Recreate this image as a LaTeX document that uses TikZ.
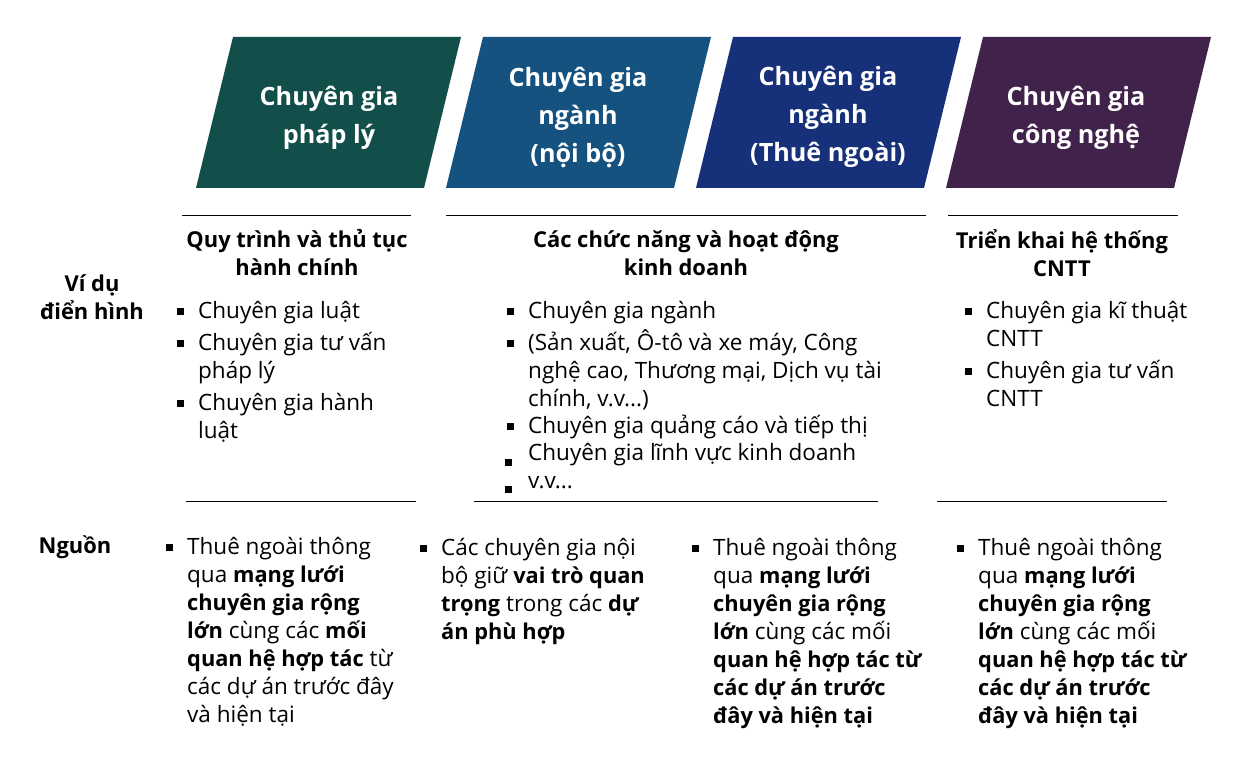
\documentclass[tikz,border=0pt]{standalone}
\usepackage{fontspec}
\setmainfont{Open Sans}
\usepackage{xcolor}
\definecolor{mauA}{RGB}{18,79,74}
\definecolor{mauB}{RGB}{21,82,128}
\definecolor{mauC}{RGB}{23,48,122}
\definecolor{mauD}{RGB}{65,34,75}
\newcommand{\dam}[1]{{\fontsize{21.8}{28}\selectfont\bfseries #1}}
\newcommand{\dong}{\rule{0pt}{24pt}}

\begin{document}
\begin{tikzpicture}[x=1pt,y=-1pt,auto,
    tieude/.style={text=white,font=\fontsize{25.2}{38}\selectfont\bfseries,align=center,inner sep=0pt},
    nhom/.style={font=\fontsize{21.9}{28}\selectfont\bfseries,align=center,inner sep=0pt},
    muc/.style={font=\fontsize{22.5}{28}\selectfont,align=left,anchor=north west,inner sep=0pt},
    dau/.style={fill=black,inner sep=0pt,minimum size=7pt}]
    \useasboundingbox (0,0) rectangle (1241,759);

    \fill[mauA] (196,188)--(233,37)--(461,37)--(424,188)--cycle;
    \fill[mauB] (446,188)--(483,37)--(711,37)--(674,188)--cycle;
    \fill[mauC] (696,188)--(733,37)--(961,37)--(924,188)--cycle;
    \fill[mauD] (946,188)--(983,37)--(1211,37)--(1174,188)--cycle;
    \node[tieude] (ta) at (329,118) {Chuyên gia\\pháp lý};
    \node[tieude] (tb) at (578,117) {Chuyên gia\\ngành\\(nội bộ)};
    \node[tieude] (tc) at (828,117) {Chuyên gia\\ngành\\(Thuê ngoài)};
    \node[tieude] (td) at (1076,118) {Chuyên gia\\công nghệ};

    \draw[line width=0.6pt] (182,215)--(411,215);
    \draw[line width=0.6pt] (446,215)--(926,215);
    \draw[line width=0.6pt] (948,215)--(1178,215);
    \draw[line width=0.6pt] (186,501)--(416,501);
    \draw[line width=0.6pt] (474,501)--(878,501);
    \draw[line width=0.6pt] (937,501)--(1167,501);

    \node[nhom] (na) at (92,297) {Ví dụ\\điển hình};
    \node[nhom] (nb) at (75,547) {Nguồn};
    \node[nhom] (ha) at (297,253) {Quy trình và thủ tục\\hành chính};
    \node[nhom] (hb) at (686,253) {Các chức năng và hoạt động\\kinh doanh};
    \node[nhom] (hc) at (1062,253) {Triển khai hệ thống\\CNTT};

    \node[muc] (aaa) at (198,294) {\dong Chuyên gia luật};
    \node[muc] (aab) at (198,326) {\dong Chuyên gia tư vấn\\pháp lý};
    \node[muc] (aac) at (198,386) {\dong Chuyên gia hành\\luật};
    \node[dau] (baa) at (180,311) {};
    \node[dau] (bab) at (180,343) {};
    \node[dau] (bac) at (180,403) {};

    \node[muc] (aba) at (528,294) {\dong Chuyên gia ngành};
    \node[muc] (abb) at (528,326) {\dong (Sản xuất, Ô-tô và xe máy, Công\\nghệ cao, Thương mại, Dịch vụ tài\\chính, v.v...)};
    \node[muc] (abc) at (528,409) {\dong Chuyên gia quảng cáo và tiếp thị};
    \node[muc] (abd) at (528,436) {\dong Chuyên gia lĩnh vực kinh doanh};
    \node[muc] (abe) at (528,464) {\dong v.v...};
    \node[dau] (bba) at (510,311) {};
    \node[dau] (bbb) at (510,343) {};
    \node[dau] (bbc) at (510,426) {};
    \node[dau] (bbd) at (508,462) {};
    \node[dau] (bbe) at (508,489) {};

    \node[muc] (aca) at (986,294) {\dong Chuyên gia kĩ thuật\\CNTT};
    \node[muc] (acb) at (986,354) {\dong Chuyên gia tư vấn\\CNTT};
    \node[dau] (bca) at (968,311) {};
    \node[dau] (bcb) at (968,371) {};

    \node[muc] (ada) at (187,530) {\dong Thuê ngoài thông\\qua \dam{mạng lưới}\\\dam{chuyên gia rộng}\\\dam{lớn} cùng các \dam{mối}\\\dam{quan hệ hợp tác} từ\\các dự án trước đây\\và hiện tại};
    \node[muc] (adb) at (441,531) {\dong Các chuyên gia nội\\bộ giữ \dam{vai trò quan}\\\dam{trọng} trong các \dam{dự}\\\dam{án phù hợp}};
    \node[muc] (adc) at (713,531) {\dong Thuê ngoài thông\\qua \dam{mạng lưới}\\\dam{chuyên gia rộng}\\\dam{lớn} cùng các mối\\\dam{quan hệ hợp tác từ}\\\dam{các dự án trước}\\\dam{đây và hiện tại}};
    \node[muc] (add) at (978,531) {\dong Thuê ngoài thông\\qua \dam{mạng lưới}\\\dam{chuyên gia rộng}\\\dam{lớn} cùng các mối\\\dam{quan hệ hợp tác từ}\\\dam{các dự án trước}\\\dam{đây và hiện tại}};
    \node[dau] (bda) at (169,547) {};
    \node[dau] (bdb) at (423,548) {};
    \node[dau] (bdc) at (695,548) {};
    \node[dau] (bdd) at (960,548) {};
\end{tikzpicture}
\end{document}
